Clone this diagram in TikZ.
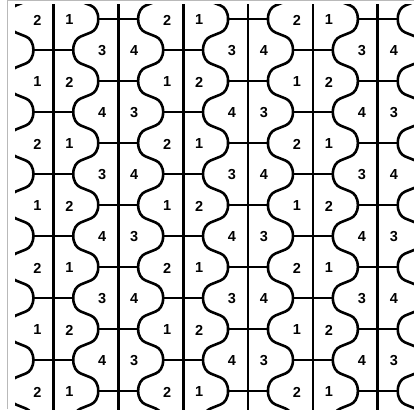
\documentclass[tikz,border=0pt]{standalone}
\usepackage{fontspec}
\setmainfont{Liberation Sans}
\begin{document}
\begin{tikzpicture}[x=1pt,y=1pt,
  ln/.style={line width=2.8pt, black},
  wave/.style={line width=2.6pt, black, line join=round},
  dig/.style={font=\fontsize{14.5}{14.5}\selectfont\bfseries, inner sep=0pt}]
\useasboundingbox (0,0) rectangle (414,409);
\draw[gray!55, line width=0.7pt] (7,0) -- (7,408.5) -- (414,408.5);
\begin{scope}
\clip (15,0) rectangle (414,404);
% vertical lines
\foreach \k in {0,...,5}
  \draw[ln] ({53.3+64.9*\k},-5) -- ({53.3+64.9*\k},420);
% bars of the crosses
\foreach \k in {0,2,4}
  \foreach \j in {1,3,...,11}
    \draw[ln] ({53.3+64.9*\k-19.95},{390-31*\j}) -- ++(39.9,0);
\foreach \k in {1,3,5}
  \foreach \j in {0,2,...,12}
    \draw[ln] ({53.3+64.9*\k-19.95},{390-31*\j}) -- ++(39.9,0);
% wavy curves (s = +1: first apex on the left, s = -1: on the right)
\foreach \k/\s [evaluate=\k as \c using 85.75+64.9*\k] in {-1/-1,0/1,1/-1,2/1,3/-1,4/1,5/-1}
  \draw[wave] ({\c-12.5*\s},421)
    \foreach \m [evaluate=\m as \Y using 421-62*\m] in {0,...,7} {
      .. controls ({\c-12.5*\s},{\Y-7.4}) and ({\c-9.1*\s},{\Y-11.85}) .. ({\c-5*\s},{\Y-13.5})
      -- ({\c+5*\s},{\Y-17.5})
      .. controls ({\c+9.1*\s},{\Y-19.15}) and ({\c+12.5*\s},{\Y-23.6}) .. ({\c+12.5*\s},{\Y-31})
      .. controls ({\c+12.5*\s},{\Y-38.4}) and ({\c+9.1*\s},{\Y-42.85}) .. ({\c+5*\s},{\Y-44.5})
      -- ({\c-5*\s},{\Y-48.5})
      .. controls ({\c-9.1*\s},{\Y-50.15}) and ({\c-12.5*\s},{\Y-54.6}) .. ({\c-12.5*\s},{\Y-62})};
\end{scope}
% digits
\foreach \k in {0,2,4} {
  \foreach \j in {0,4,8,12} {
    \node[dig] (a\k-\j) at ({53.3+64.9*\k-16},{389-31*\j}) {2};
    \node[dig] (b\k-\j) at ({53.3+64.9*\k+16},{389-31*\j}) {1};}
  \foreach \j in {2,6,10} {
    \node[dig] (a\k-\j) at ({53.3+64.9*\k-16},{389-31*\j}) {1};
    \node[dig] (b\k-\j) at ({53.3+64.9*\k+16},{389-31*\j}) {2};}}
\foreach \k in {1,3,5} {
  \foreach \j in {1,5,9} {
    \node[dig] (a\k-\j) at ({53.3+64.9*\k-16},{389-31*\j}) {3};
    \node[dig] (b\k-\j) at ({53.3+64.9*\k+16},{389-31*\j}) {4};}
  \foreach \j in {3,7,11} {
    \node[dig] (a\k-\j) at ({53.3+64.9*\k-16},{389-31*\j}) {4};
    \node[dig] (b\k-\j) at ({53.3+64.9*\k+16},{389-31*\j}) {3};}}
\end{tikzpicture}
\end{document}
